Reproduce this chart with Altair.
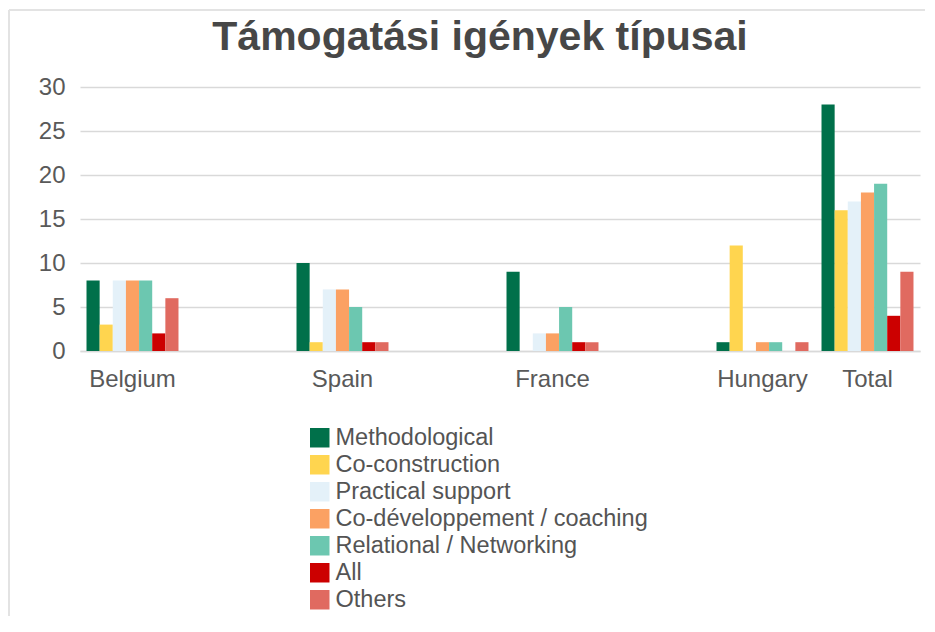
import altair as alt
import pandas as pd

countries = ["Belgium", "Spain", "France", "Hungary", "Total"]
slots = ["Belgium", "_a", "Spain", "_b", "France", "_c", "Hungary", "Total"]
series = ["Methodological", "Co-construction", "Practical support",
          "Co-développement / coaching", "Relational / Networking", "All", "Others"]
colors = ["#00704a", "#ffd54f", "#e4f1f9", "#fba163", "#6cc7b0", "#cc0000", "#e06a60"]
title_text = ["Támogatási igények típusai"]

methodological = [8, 10, 9, 1, 28]
co_construction = [3, 1, 0, 12, 16]
practical_support = [8, 7, 2, 0, 17]
co_developpement = [8, 7, 2, 1, 18]
relational = [8, 5, 5, 1, 19]
all_types = [2, 1, 1, 0, 4]
others = [6, 1, 1, 1, 9]

series_values = [methodological, co_construction, practical_support,
                 co_developpement, relational, all_types, others]

rows = []
for s, vals in zip(series, series_values):
    for c, v in zip(countries, vals):
        rows.append({"country": c, "series": s, "value": v})
df = pd.DataFrame(rows)

FONT = "Liberation Sans"

bars = alt.Chart(df).mark_bar().encode(
    x=alt.X("country:N",
            scale=alt.Scale(domain=slots, paddingInner=0.124, paddingOuter=0.062),
            axis=alt.Axis(title=None, ticks=False, domainColor="#d9d9d9", domainWidth=1.5,
                          labelExpr="indexof(datum.label, '_') == 0 ? '' : datum.label",
                          labelFontSize=24, labelColor="#595959", labelPadding=16,
                          labelAngle=0, labelFont=FONT)),
    xOffset=alt.XOffset("series:N", sort=series,
                        scale=alt.Scale(domain=series, paddingInner=0, paddingOuter=0)),
    y=alt.Y("value:Q",
            scale=alt.Scale(domain=[0, 30]),
            axis=alt.Axis(title=None, values=[0, 5, 10, 15, 20, 25, 30], domain=False,
                          ticks=False, labelPadding=15, labelFontSize=24,
                          labelColor="#595959", labelFont=FONT,
                          gridColor="#d9d9d9", gridWidth=1.5)),
    color=alt.Color("series:N", sort=series,
                    scale=alt.Scale(domain=series, range=colors),
                    legend=alt.Legend(title=None, orient="none", legendX=228, legendY=339,
                                      symbolType="square", symbolSize=380,
                                      symbolStrokeWidth=0, labelFontSize=23.5,
                                      labelColor="#545454", labelFont=FONT,
                                      rowPadding=2, labelOffset=4, padding=0,
                                      labelLimit=400)),
)

title = alt.Chart(pd.DataFrame({"t": title_text})).mark_text(
    font=FONT, fontSize=41, fontWeight="bold", color="#474747",
    align="center", baseline="alphabetic").encode(
    text="t:N", x=alt.value(400), y=alt.value(-37))

frame_top = alt.Chart(df).mark_rule(color="#e3e3e3", strokeWidth=1.5).encode(
    x=alt.value(-71), x2=alt.value(860), y=alt.value(-77))
frame_left = alt.Chart(df).mark_rule(color="#e3e3e3", strokeWidth=1.5).encode(
    x=alt.value(-71), y=alt.value(-77), y2=alt.value(545))

chart = alt.layer(frame_top, frame_left, bars, title).properties(
    width=840, height=264,
    autosize=alt.AutoSizeParams(type="none"),
    padding={"left": 72, "top": 79, "right": 5, "bottom": 265},
).configure_view(stroke=None)

chart.save("out.html", embed_options={"renderer": "svg", "actions": False})
